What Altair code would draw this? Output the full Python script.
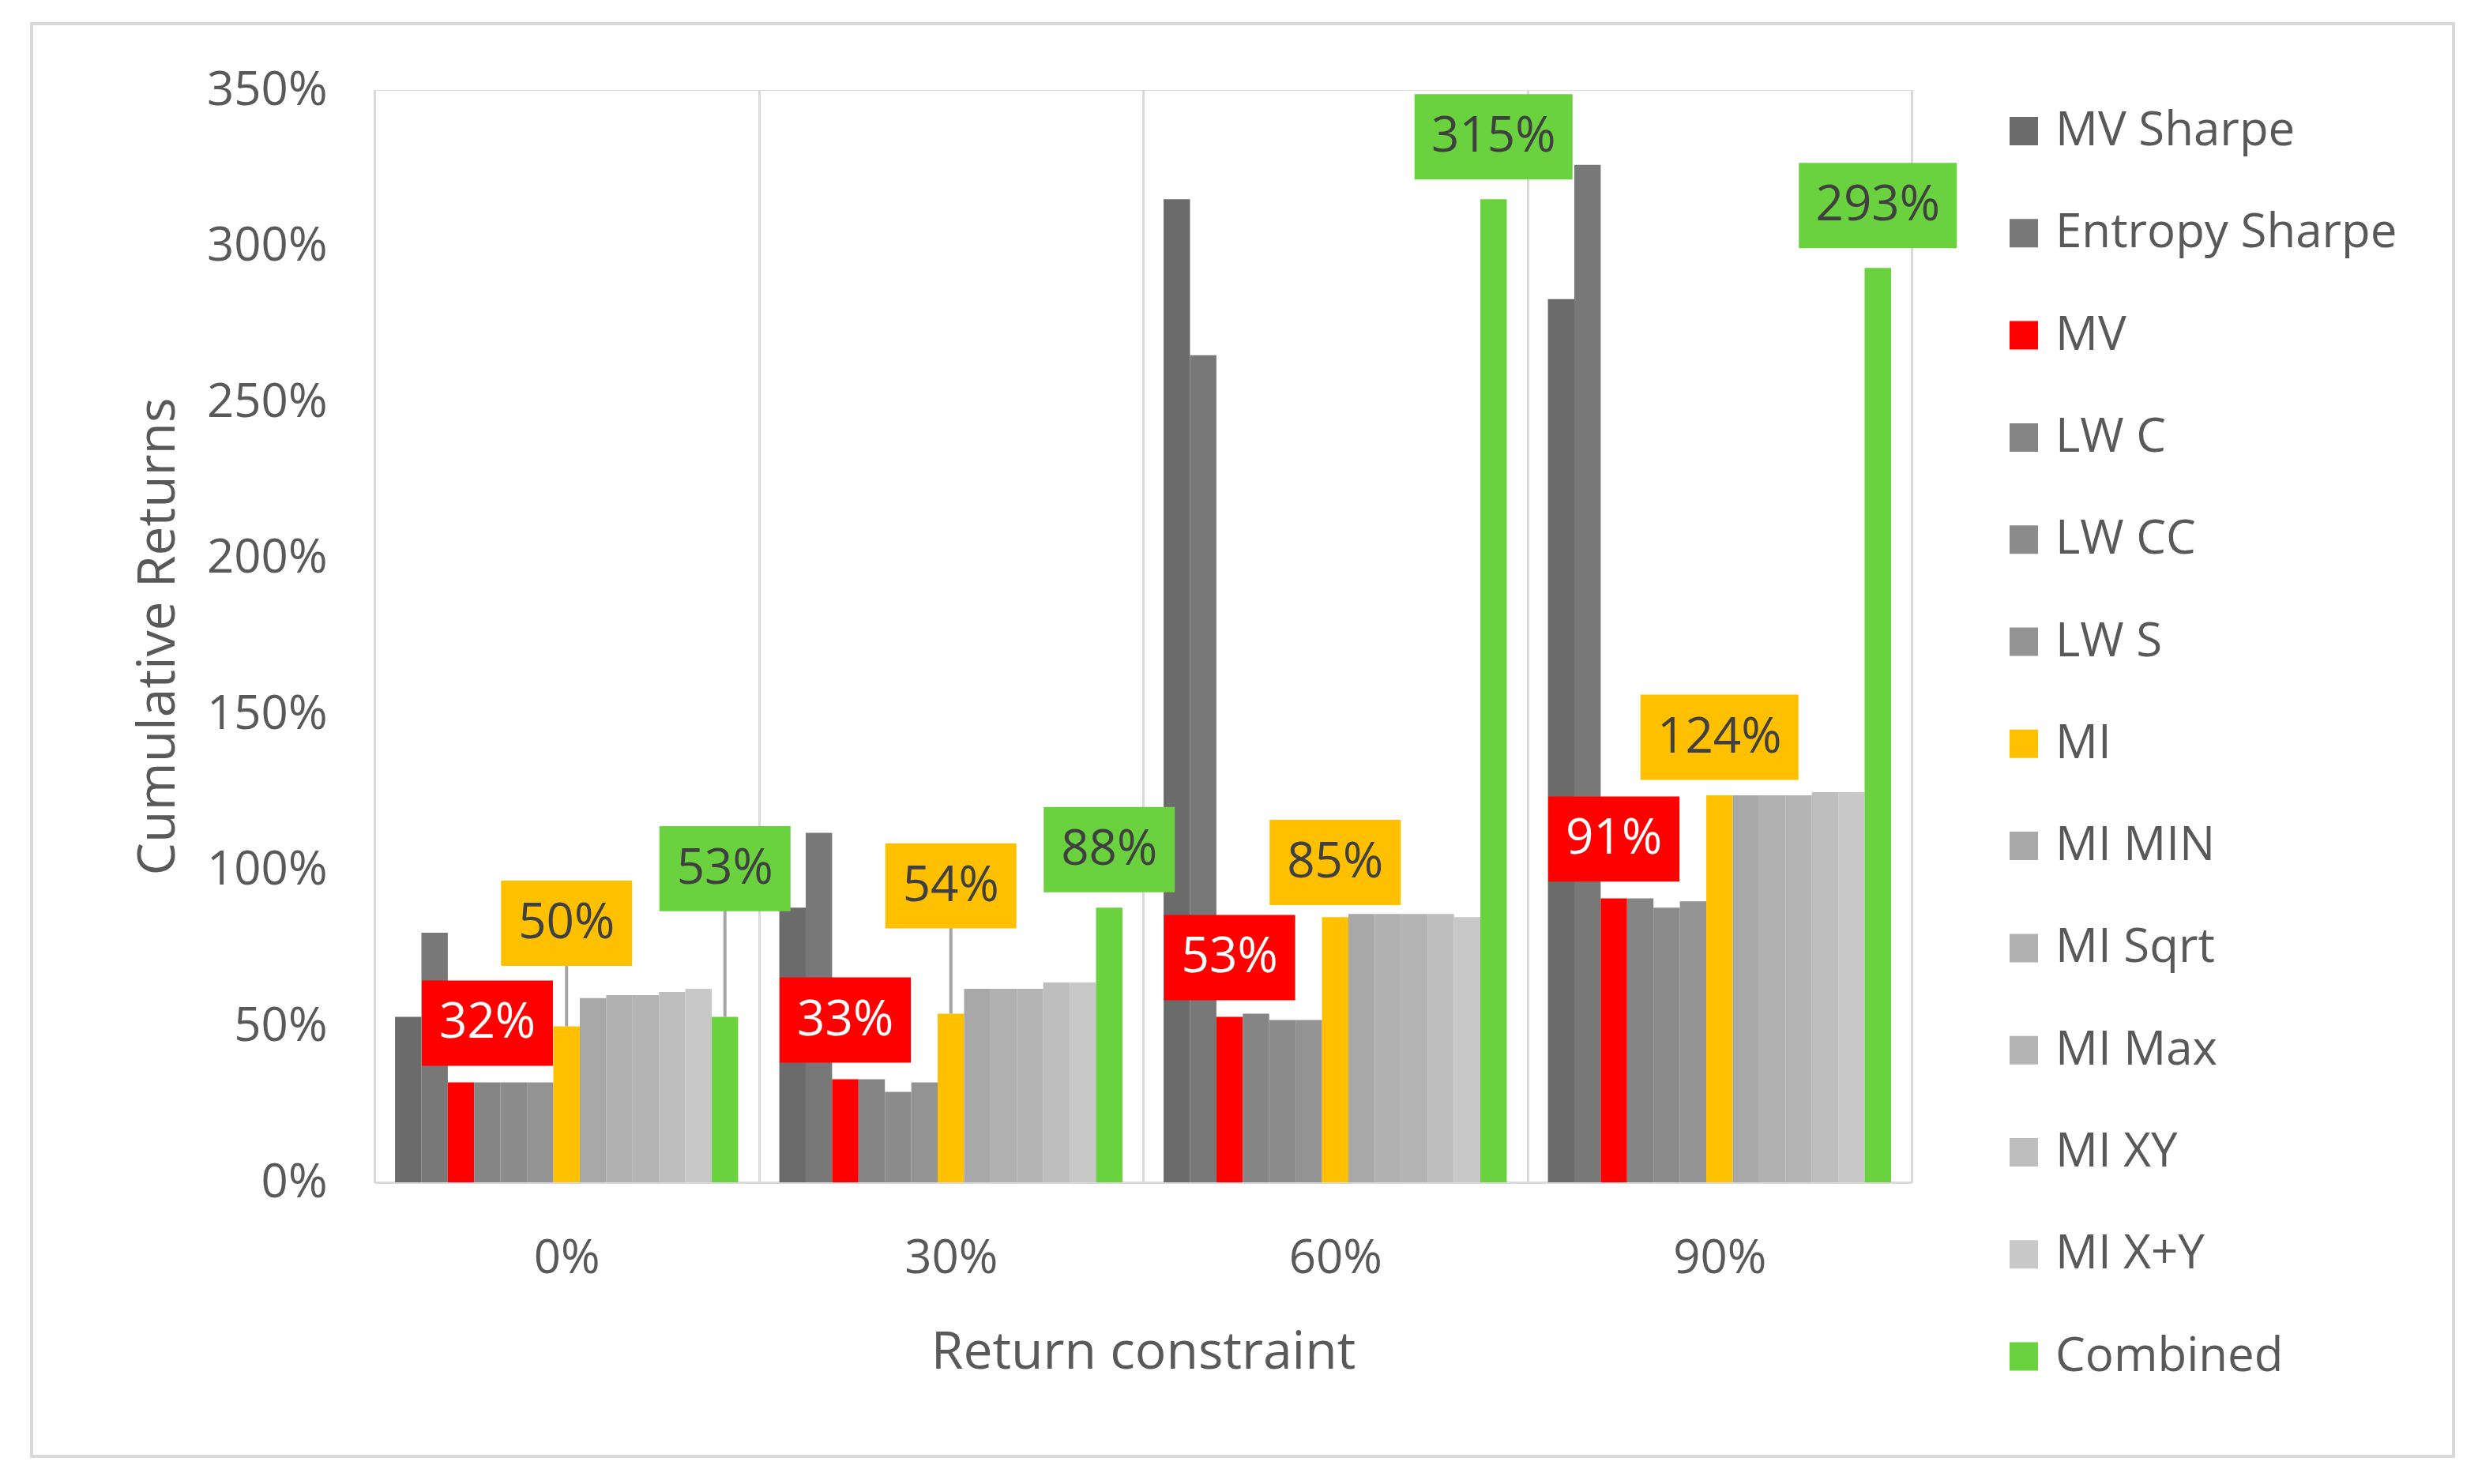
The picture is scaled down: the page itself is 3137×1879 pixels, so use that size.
import altair as alt
import pandas as pd

groups = ["0%", "30%", "60%", "90%"]
series = ["MV Sharpe", "Entropy Sharpe", "MV", "LW C", "LW CC", "LW S", "MI",
          "MI MIN", "MI Sqrt", "MI Max", "MI XY", "MI X+Y", "Combined"]
colors = ["#6b6b6b", "#787878", "#ff0000", "#858585", "#8c8c8c", "#939393", "#ffc000",
          "#a8a8a8", "#b0b0b0", "#b4b4b4", "#bebebe", "#c8c8c8", "#6ad13f"]

mv_sharpe = [53, 88, 315, 283]
entropy_sharpe = [80, 112, 265, 326]
mv = [32, 33, 53, 91]
lw_c = [32, 33, 54, 91]
lw_cc = [32, 29, 52, 88]
lw_s = [32, 32, 52, 90]
mi = [50, 54, 85, 124]
mi_min = [59, 62, 86, 124]
mi_sqrt = [60, 62, 86, 124]
mi_max = [60, 62, 86, 124]
mi_xy = [61, 64, 86, 125]
mi_xpy = [62, 64, 85, 125]
combined = [53, 88, 315, 293]

series_values = [mv_sharpe, entropy_sharpe, mv, lw_c, lw_cc, lw_s, mi,
                 mi_min, mi_sqrt, mi_max, mi_xy, mi_xpy, combined]

# data-label placement: how far (in % units) each label box sits above its bar,
# and which bar slot it is centred over
labeled = ["MV", "MI", "Combined"]
label_lift = {
    "MV": [19, 19, 19, 19],
    "MI": [33, 41, 17.5, 18.6],
    "Combined": [47.5, 18.6, 20, 20],
}
label_anchor = {
    "MV": ["LW C", "MV", "MV", "MV"],
    "MI": ["MI", "MI", "MI", "MI"],
    "Combined": ["Combined", "Combined", "Combined", "Combined"],
}

rows = []
for s, vals in zip(series, series_values):
    for g, v in zip(groups, vals):
        rows.append({"group": g, "series": s, "value": v})
df = pd.DataFrame(rows)

color_of = dict(zip(series, colors))
lrows = []
for s in labeled:
    vals = series_values[series.index(s)]
    for g, v, lift, anc in zip(groups, vals, label_lift[s], label_anchor[s]):
        lrows.append({"group": g, "series": s, "anchor": anc, "value": v,
                      "label_y": v + lift, "text": f"{v}%", "boxcolor": color_of[s],
                      "wide": len(str(v)) >= 3, "leader": lift > 25})
ldf = pd.DataFrame(lrows)

FONT = "Open Sans"
TXT = "#595959"

xenc = alt.X("group:N", scale=alt.Scale(domain=groups, paddingInner=0, paddingOuter=0),
             axis=alt.Axis(title="Return constraint", labelAngle=0, ticks=False,
                           tickBand="extent", grid=True, gridColor="#d9d9d9", gridWidth=3,
                           domainColor="#d9d9d9", domainWidth=3,
                           labelFontSize=60, labelColor=TXT, labelPadding=67, labelFont=FONT,
                           titleFontSize=66, titleColor=TXT, titlePadding=57,
                           titleFontWeight="normal", titleFont=FONT))
xoff = alt.XOffset("series:N", scale=alt.Scale(domain=series, paddingInner=0, paddingOuter=0.78))
yscale = alt.Scale(domain=[0, 350])

bars = alt.Chart(df).mark_bar().encode(
    x=xenc,
    xOffset=xoff,
    y=alt.Y("value:Q", scale=yscale,
            axis=alt.Axis(title="Cumulative Returns", values=list(range(0, 351, 50)),
                          labelExpr="datum.value + '%'", grid=False, domain=False, ticks=False,
                          labelFontSize=60, labelColor=TXT, labelPadding=60, labelFont=FONT,
                          titleFontSize=66, titleColor=TXT, titlePadding=40,
                          titleFontWeight="normal", titleFont=FONT)),
    color=alt.Color("series:N", scale=alt.Scale(domain=series, range=colors),
                    legend=alt.Legend(title=None, orient="none", legendX=2058, legendY=22,
                                      symbolType="square", symbolSize=1296,
                                      symbolStrokeWidth=0, labelFontSize=60, labelColor=TXT,
                                      labelFont=FONT, rowPadding=69.3, padding=0,
                                      labelOffset=10, labelLimit=1000)),
)

leaders = alt.Chart(ldf).transform_filter("datum.leader").mark_rule(
    color="#a6a6a6", strokeWidth=4
).encode(x="group:N", xOffset=alt.XOffset("anchor:N"),
         y=alt.Y("value:Q", scale=yscale), y2="label_y:Q")

path_narrow = "M-1,-0.65L1,-0.65L1,0.65L-1,0.65Z"
path_wide = "M-1,-0.54L1,-0.54L1,0.54L-1,0.54Z"

boxes_narrow = alt.Chart(ldf).transform_filter("!datum.wide").mark_point(
    shape=path_narrow, size=166 * 166, filled=True, opacity=1, strokeWidth=0
).encode(x="group:N", xOffset=alt.XOffset("anchor:N"), y=alt.Y("label_y:Q", scale=yscale),
         fill=alt.Fill("boxcolor:N", scale=None))

boxes_wide = alt.Chart(ldf).transform_filter("datum.wide").mark_point(
    shape=path_wide, size=200 * 200, filled=True, opacity=1, strokeWidth=0
).encode(x="group:N", xOffset=alt.XOffset("anchor:N"), y=alt.Y("label_y:Q", scale=yscale),
         fill=alt.Fill("boxcolor:N", scale=None))

texts = alt.Chart(ldf).mark_text(
    fontSize=62, font=FONT, align="center", baseline="middle"
).encode(x="group:N", xOffset=alt.XOffset("anchor:N"), y=alt.Y("label_y:Q", scale=yscale),
         text="text:N",
         color=alt.condition(alt.datum.series == "MV", alt.value("white"), alt.value("#404040")))

frame = alt.Chart(pd.DataFrame({"k": [0]})).mark_rect(
    fill="white", fillOpacity=0, stroke="#d9d9d9", strokeWidth=4
).encode(x=alt.value(-434), x2=alt.value(2632), y=alt.value(-84), y2=alt.value(1730))

chart = alt.layer(bars, leaders, boxes_narrow, boxes_wide, texts, frame).properties(
    width=1946, height=1383,
    autosize=alt.AutoSizeParams(type="none"),
    padding={"left": 466, "top": 106, "right": 700, "bottom": 360},
).configure_view(stroke=None).configure(font=FONT)

chart.save("out.html", embed_options={"renderer": "svg", "actions": False})
